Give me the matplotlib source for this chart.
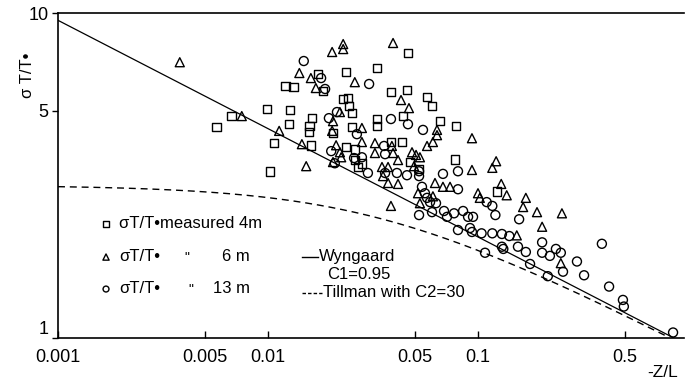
import numpy as np
import matplotlib.pyplot as plt
from matplotlib.ticker import FixedLocator, FixedFormatter, NullLocator

plt.rcParams['font.family'] = ['Liberation Sans', 'DejaVu Sans']

# measured sigma_T / T* against -z/L for the three heights
x_4m = [0.0057, 0.0067, 0.0099, 0.0102, 0.0107, 0.0121, 0.0132, 0.0127, 0.0126, 0.0162,
        0.0158, 0.0157, 0.0160, 0.0173, 0.0183, 0.0204, 0.0235, 0.0228, 0.0240, 0.0243,
        0.0251, 0.0251, 0.0235, 0.0259, 0.0259, 0.0280, 0.0464, 0.0330, 0.0385, 0.0459,
        0.0572, 0.0604, 0.0330, 0.0330, 0.0439, 0.0659, 0.0786, 0.0385, 0.0435, 0.0474,
        0.0777, 0.0524, 0.123, 0.0268]
y_4m = [4.46, 4.82, 5.07, 3.26, 3.98, 5.96, 5.92, 5.03, 4.55, 4.75,
        4.49, 4.30, 3.92, 6.49, 5.75, 4.27, 6.58, 5.44, 5.48, 5.17,
        4.92, 4.46, 3.87, 3.81, 3.53, 3.45, 7.53, 6.77, 5.71, 5.80,
        5.52, 5.17, 4.72, 4.49, 4.82, 4.65, 4.49, 4.01, 4.01, 3.48,
        3.55, 3.31, 2.83, 3.36]

x_6m = [0.0038, 0.0075, 0.0113, 0.0141, 0.0145, 0.0152, 0.0160, 0.0169, 0.0202, 0.0228,
        0.0228, 0.0394, 0.0259, 0.0430, 0.0469, 0.0220, 0.0204, 0.0202, 0.0280, 0.0638,
        0.0638, 0.0936, 0.0280, 0.0323, 0.0323, 0.0389, 0.0394, 0.0211, 0.0220, 0.0223,
        0.0204, 0.0485, 0.0507, 0.0529, 0.0416, 0.0572, 0.0610, 0.0349, 0.0373, 0.0496,
        0.0353, 0.0373, 0.0416, 0.0624, 0.0681, 0.0736, 0.0936, 0.122, 0.117, 0.129,
        0.137, 0.169, 0.100, 0.102, 0.0518, 0.0529, 0.0610, 0.0385, 0.164, 0.191,
        0.251, 0.202, 0.153, 0.248]
y_6m = [7.06, 4.82, 4.34, 6.54, 3.95, 3.38, 6.31, 5.88, 7.59, 8.03,
        7.75, 8.09, 6.13, 5.40, 5.10, 4.96, 4.65, 4.34, 4.43, 4.37,
        4.21, 4.12, 4.01, 3.98, 3.71, 3.90, 3.71, 3.92, 3.73, 3.60,
        3.48, 3.73, 3.66, 3.60, 3.53, 3.90, 4.01, 3.36, 3.36, 3.38,
        3.15, 3.00, 2.98, 3.00, 2.92, 2.92, 3.29, 3.50, 3.34, 2.98,
        2.75, 2.70, 2.79, 2.70, 2.79, 2.60, 2.73, 2.55, 2.53, 2.44,
        2.42, 2.20, 2.07, 1.70]

x_13m = [0.0148, 0.0179, 0.0187, 0.0195, 0.0213, 0.0200, 0.0208, 0.0257, 0.0303, 0.0385,
         0.0464, 0.0547, 0.0265, 0.0357, 0.0361, 0.0280, 0.0299, 0.0361, 0.0411, 0.0459,
         0.0524, 0.0524, 0.0681, 0.0803, 0.0803, 0.0541, 0.0572, 0.0591, 0.0631, 0.0524,
         0.0604, 0.0689, 0.0769, 0.0849, 0.0897, 0.110, 0.117, 0.121, 0.0947, 0.0916,
         0.0803, 0.0936, 0.104, 0.117, 0.130, 0.141, 0.157, 0.108, 0.130, 0.132,
         0.155, 0.169, 0.177, 0.202, 0.202, 0.220, 0.235, 0.248, 0.254, 0.215,
         0.296, 0.320, 0.389, 0.421, 0.490, 0.495, 0.849, 0.0559, 0.0712]
y_13m = [7.12, 6.31, 5.84, 4.75, 4.96, 3.76, 3.45, 3.58, 6.05, 4.72,
         4.55, 4.37, 4.24, 3.90, 3.68, 3.60, 3.22, 3.22, 3.22, 3.17,
         3.26, 3.15, 3.20, 3.26, 2.87, 2.92, 2.70, 2.62, 2.60, 2.39,
         2.44, 2.46, 2.42, 2.46, 2.36, 2.62, 2.55, 2.39, 2.36, 2.18,
         2.15, 2.12, 2.10, 2.10, 2.09, 2.06, 2.32, 1.83, 1.91, 1.88,
         1.91, 1.84, 1.69, 1.97, 1.83, 1.79, 1.88, 1.83, 1.60, 1.55,
         1.72, 1.56, 1.95, 1.44, 1.31, 1.25, 1.04, 2.79, 2.36]

C1 = 0.95
C2 = 30.0

xticks = [0.001, 0.005, 0.01, 0.05, 0.1, 0.5]
xtick_labels = ['0.001', '0.005', '0.01', '0.05', '0.1', '0.5']
yticks = [1, 5, 10]
ytick_labels = ['1', '5', '10']

fig = plt.figure(figsize=(6.85, 3.85), dpi=100)
ax = fig.add_axes([0.0847, 0.122, 0.9138, 0.844])
ax.set_xscale('log')
ax.set_yscale('log')
ax.set_xlim(0.001, 0.957)
ax.set_ylim(1, 10)

# model curves, cut where they reach the bottom of the frame
zl = np.logspace(-3, 0, 400)
wyn = C1 * zl ** (-1 / 3)
til = C1 * (zl + 1 / C2) ** (-1 / 3)
ax.plot(zl[wyn >= 1], wyn[wyn >= 1], color='black', lw=0.9)
ax.plot(zl[til >= 1], til[til >= 1], color='black', lw=1.0, dashes=(5, 3.5))

mk = dict(facecolors='none', edgecolors='black', linewidths=1.0)
ax.scatter(x_4m, y_4m, marker='s', s=38, **mk)
ax.scatter(x_6m, y_6m, marker='^', s=42, **mk)
ax.scatter(x_13m, y_13m, marker='o', s=42, **mk)

ax.xaxis.set_major_locator(FixedLocator(xticks))
ax.xaxis.set_major_formatter(FixedFormatter(xtick_labels))
ax.yaxis.set_major_locator(FixedLocator(yticks))
ax.yaxis.set_major_formatter(FixedFormatter(ytick_labels))
ax.xaxis.set_minor_locator(NullLocator())
ax.yaxis.set_minor_locator(NullLocator())
ax.tick_params(axis='x', direction='in', length=5, width=1, labelsize=13, pad=8)
ax.tick_params(axis='y', direction='out', length=4, width=1, labelsize=13, pad=3)
# lift the bottom "1" so it sits clear of "0.001"
ax.get_yticklabels()[0].set_va('bottom')

ax.spines['right'].set_visible(False)
for s in ['left', 'bottom', 'top']:
    ax.spines[s].set_linewidth(1.2)

# legend and labels placed in pixel-like units of the frame
fs = 12
tr = ax.transAxes
def fx(px):
    return (px - 58) / 626.0
def fy(py):
    return (338 - py) / 325.0

ax.text(fx(27), fy(75), 'σ T/T•', rotation=90, transform=tr,
        fontsize=12, ha='center', va='center')
ax.text(fx(678), fy(372), '-Z/L', transform=tr, fontsize=12.5,
        ha='right', va='center')

ax.scatter([fx(106)], [fy(224)], marker='s', s=18, transform=tr, clip_on=False, **mk)
ax.scatter([fx(106)], [fy(257)], marker='^', s=20, transform=tr, clip_on=False, **mk)
ax.scatter([fx(106)], [fy(289)], marker='o', s=18, transform=tr, clip_on=False, **mk)
ax.text(fx(119), fy(223), 'σT/T•measured 4m', transform=tr, fontsize=fs, va='center')
ax.text(fx(119), fy(256), 'σT/T•', transform=tr, fontsize=fs, va='center')
ax.text(fx(119), fy(288), 'σT/T•', transform=tr, fontsize=fs, va='center')
ax.text(fx(187), fy(258), '"', transform=tr, fontsize=10, va='center', ha='center')
ax.text(fx(191), fy(290), '"', transform=tr, fontsize=10, va='center', ha='center')
ax.text(fx(250), fy(256), '6 m', transform=tr, fontsize=fs, va='center', ha='right')
ax.text(fx(250), fy(288), '13 m', transform=tr, fontsize=fs, va='center', ha='right')

ax.plot([fx(302), fx(318)], [fy(257), fy(257)], color='black', lw=1.0, transform=tr)
ax.text(fx(319), fy(256), 'Wyngaard', transform=tr, fontsize=fs, va='center')
ax.text(fx(327), fy(274), 'C1=0.95', transform=tr, fontsize=fs, va='center')
ax.plot([fx(302), fx(322)], [fy(293), fy(293)], color='black', lw=1.0,
        dashes=(2.5, 1.5), transform=tr)
ax.text(fx(323), fy(292), 'Tillman with C2=30', transform=tr, fontsize=fs, va='center')

fig.savefig('out.png', dpi=100)
